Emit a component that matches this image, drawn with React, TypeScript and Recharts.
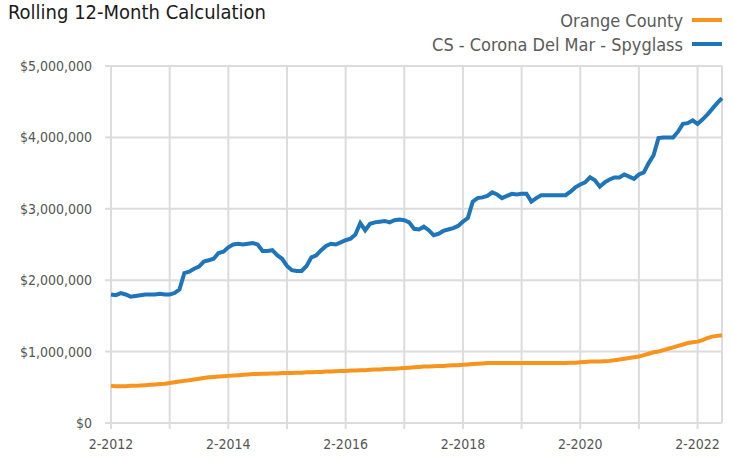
import { LineChart, Line, XAxis, YAxis, CartesianGrid } from 'recharts'

const START_YEAR = 2012
const START_MONTH = 2

// rolling 12-month median price, monthly from 2-2012
const orangeCounty = [
  0.52, 0.515, 0.515, 0.515, 0.52, 0.52, 0.525, 0.53, 0.535, 0.54, 0.545, 0.55,
  0.56, 0.57, 0.58, 0.59, 0.6, 0.61, 0.62, 0.63, 0.64, 0.645, 0.65, 0.655,
  0.66, 0.665, 0.67, 0.675, 0.68, 0.685, 0.685, 0.69, 0.69, 0.695, 0.695, 0.7,
  0.7, 0.7, 0.705, 0.705, 0.71, 0.71, 0.715, 0.715, 0.72, 0.72, 0.725, 0.73,
  0.73, 0.735, 0.735, 0.74, 0.74, 0.745, 0.75, 0.75, 0.755, 0.76, 0.76, 0.765,
  0.77, 0.775, 0.78, 0.785, 0.79, 0.79, 0.795, 0.8, 0.8, 0.805, 0.81, 0.81,
  0.815, 0.82, 0.825, 0.83, 0.835, 0.84, 0.84, 0.84, 0.84, 0.84, 0.84, 0.84,
  0.84, 0.84, 0.84, 0.84, 0.84, 0.84, 0.84, 0.84, 0.84, 0.84, 0.845, 0.845,
  0.85, 0.855, 0.86, 0.86, 0.86, 0.865, 0.87, 0.88, 0.89, 0.9, 0.91, 0.92,
  0.93, 0.95, 0.97, 0.99, 1.0, 1.02, 1.04, 1.06, 1.08, 1.1, 1.12, 1.13,
  1.14, 1.16, 1.19, 1.21, 1.22, 1.23,
]

const coronaDelMar = [
  1.8, 1.79, 1.82, 1.8, 1.77, 1.78, 1.79, 1.8, 1.8, 1.8, 1.81, 1.8,
  1.8, 1.82, 1.87, 2.1, 2.12, 2.16, 2.19, 2.26, 2.28, 2.3, 2.38, 2.4,
  2.46, 2.5, 2.51, 2.5, 2.51, 2.52, 2.5, 2.41, 2.41, 2.42, 2.35, 2.3,
  2.2, 2.14, 2.13, 2.13, 2.2, 2.32, 2.35, 2.42, 2.48, 2.51, 2.5, 2.53,
  2.56, 2.58, 2.64, 2.8, 2.7, 2.79, 2.81, 2.82, 2.83, 2.81, 2.84, 2.85,
  2.84, 2.81, 2.72, 2.71, 2.75, 2.7, 2.63, 2.65, 2.69, 2.71, 2.73, 2.76,
  2.82, 2.87, 3.1, 3.15, 3.16, 3.18, 3.23, 3.2, 3.15, 3.18, 3.21, 3.2,
  3.21, 3.21, 3.1, 3.15, 3.19, 3.19, 3.19, 3.19, 3.19, 3.19, 3.24, 3.3,
  3.34, 3.37, 3.44, 3.4, 3.31, 3.37, 3.41, 3.44, 3.44, 3.48, 3.45, 3.42,
  3.48, 3.51, 3.64, 3.75, 3.99, 4.0, 4.0, 4.0, 4.08, 4.19, 4.2, 4.24,
  4.19, 4.25, 4.32, 4.4, 4.48, 4.55,
]

const yTicks = [0, 1000000, 2000000, 3000000, 4000000, 5000000]
const labelledYears = [2012, 2014, 2016, 2018, 2020, 2022]
const gridYears = [2012, 2013, 2014, 2015, 2016, 2017, 2018, 2019, 2020, 2021, 2022]

const monthLabel = (i: number) => {
  const m = START_MONTH - 1 + i
  return `${(m % 12) + 1}-${START_YEAR + Math.floor(m / 12)}`
}

const data = orangeCounty.map((v, i) => ({
  month: monthLabel(i),
  oc: v * 1000000,
  cdm: coronaDelMar[i] * 1000000,
}))

const FONT = "'Liberation Sans Narrow', 'DejaVu Sans Condensed', 'Roboto', sans-serif"
const GRID = '#dcdcdc'
const ORANGE = '#f7941d'
const BLUE = '#1f75ba'

const legendItems = [
  { name: 'Orange County', color: ORANGE },
  { name: 'CS - Corona Del Mar - Spyglass', color: BLUE },
]

const fmtMoney = (v: number) => '$' + v.toLocaleString('en-US')

export default function App() {
  return (
    <div style={{ position: 'absolute', left: 0, top: 0, width: 733, height: 456, fontFamily: FONT }}>
      <div style={{ position: 'absolute', left: 8, top: 0, fontSize: 20, color: '#1a1a1a', lineHeight: '24px' }}>
        Rolling 12-Month Calculation
      </div>
      <div
        style={{ position: 'absolute', right: 11, top: 8, fontSize: 18, color: '#5a5a5a', zIndex: 1 }}
      >
        {legendItems.map((e) => (
          <div key={e.name} style={{ display: 'flex', justifyContent: 'flex-end', alignItems: 'center', height: 24 }}>
            <span>{e.name}</span>
            <span style={{ display: 'inline-block', width: 30, height: 4, background: e.color, marginLeft: 9 }} />
          </div>
        ))}
      </div>
      <LineChart
        width={733}
        height={456}
        data={data}
        margin={{ top: 66, right: 11, bottom: 0, left: 0 }}
      >
        <CartesianGrid stroke={GRID} strokeWidth={2} />
        <XAxis
          dataKey="month"
          ticks={gridYears.map((y) => `${START_MONTH}-${y}`)}
          interval={0}
          tickFormatter={(v: string) =>
            labelledYears.map((y) => `${START_MONTH}-${y}`).includes(v) ? v : ''
          }
          axisLine={{ stroke: GRID, strokeWidth: 2 }}
          tickLine={{ stroke: GRID, strokeWidth: 2 }}
          tickSize={6}
          tickMargin={10}
          tick={{ fill: '#555', fontSize: 14, fontFamily: FONT }}
          height={33}
        />
        <YAxis
          domain={[0, 5000000]}
          ticks={yTicks}
          tickFormatter={fmtMoney}
          axisLine={false}
          tickLine={{ stroke: GRID, strokeWidth: 2 }}
          tickSize={6}
          tickMargin={13}
          tick={{ fill: '#555', fontSize: 14, fontFamily: FONT }}
          width={111}
        />
        <YAxis
          yAxisId="right"
          orientation="right"
          width={0}
          tick={false}
          tickLine={false}
          axisLine={{ stroke: GRID, strokeWidth: 2 }}
        />
        <Line
          type="linear"
          dataKey="oc"
          name="Orange County"
          stroke={ORANGE}
          strokeWidth={4}
          dot={false}
          isAnimationActive={false}
        />
        <Line
          type="linear"
          dataKey="cdm"
          name="CS - Corona Del Mar - Spyglass"
          stroke={BLUE}
          strokeWidth={4}
          dot={false}
          isAnimationActive={false}
        />
      </LineChart>
    </div>
  )
}
